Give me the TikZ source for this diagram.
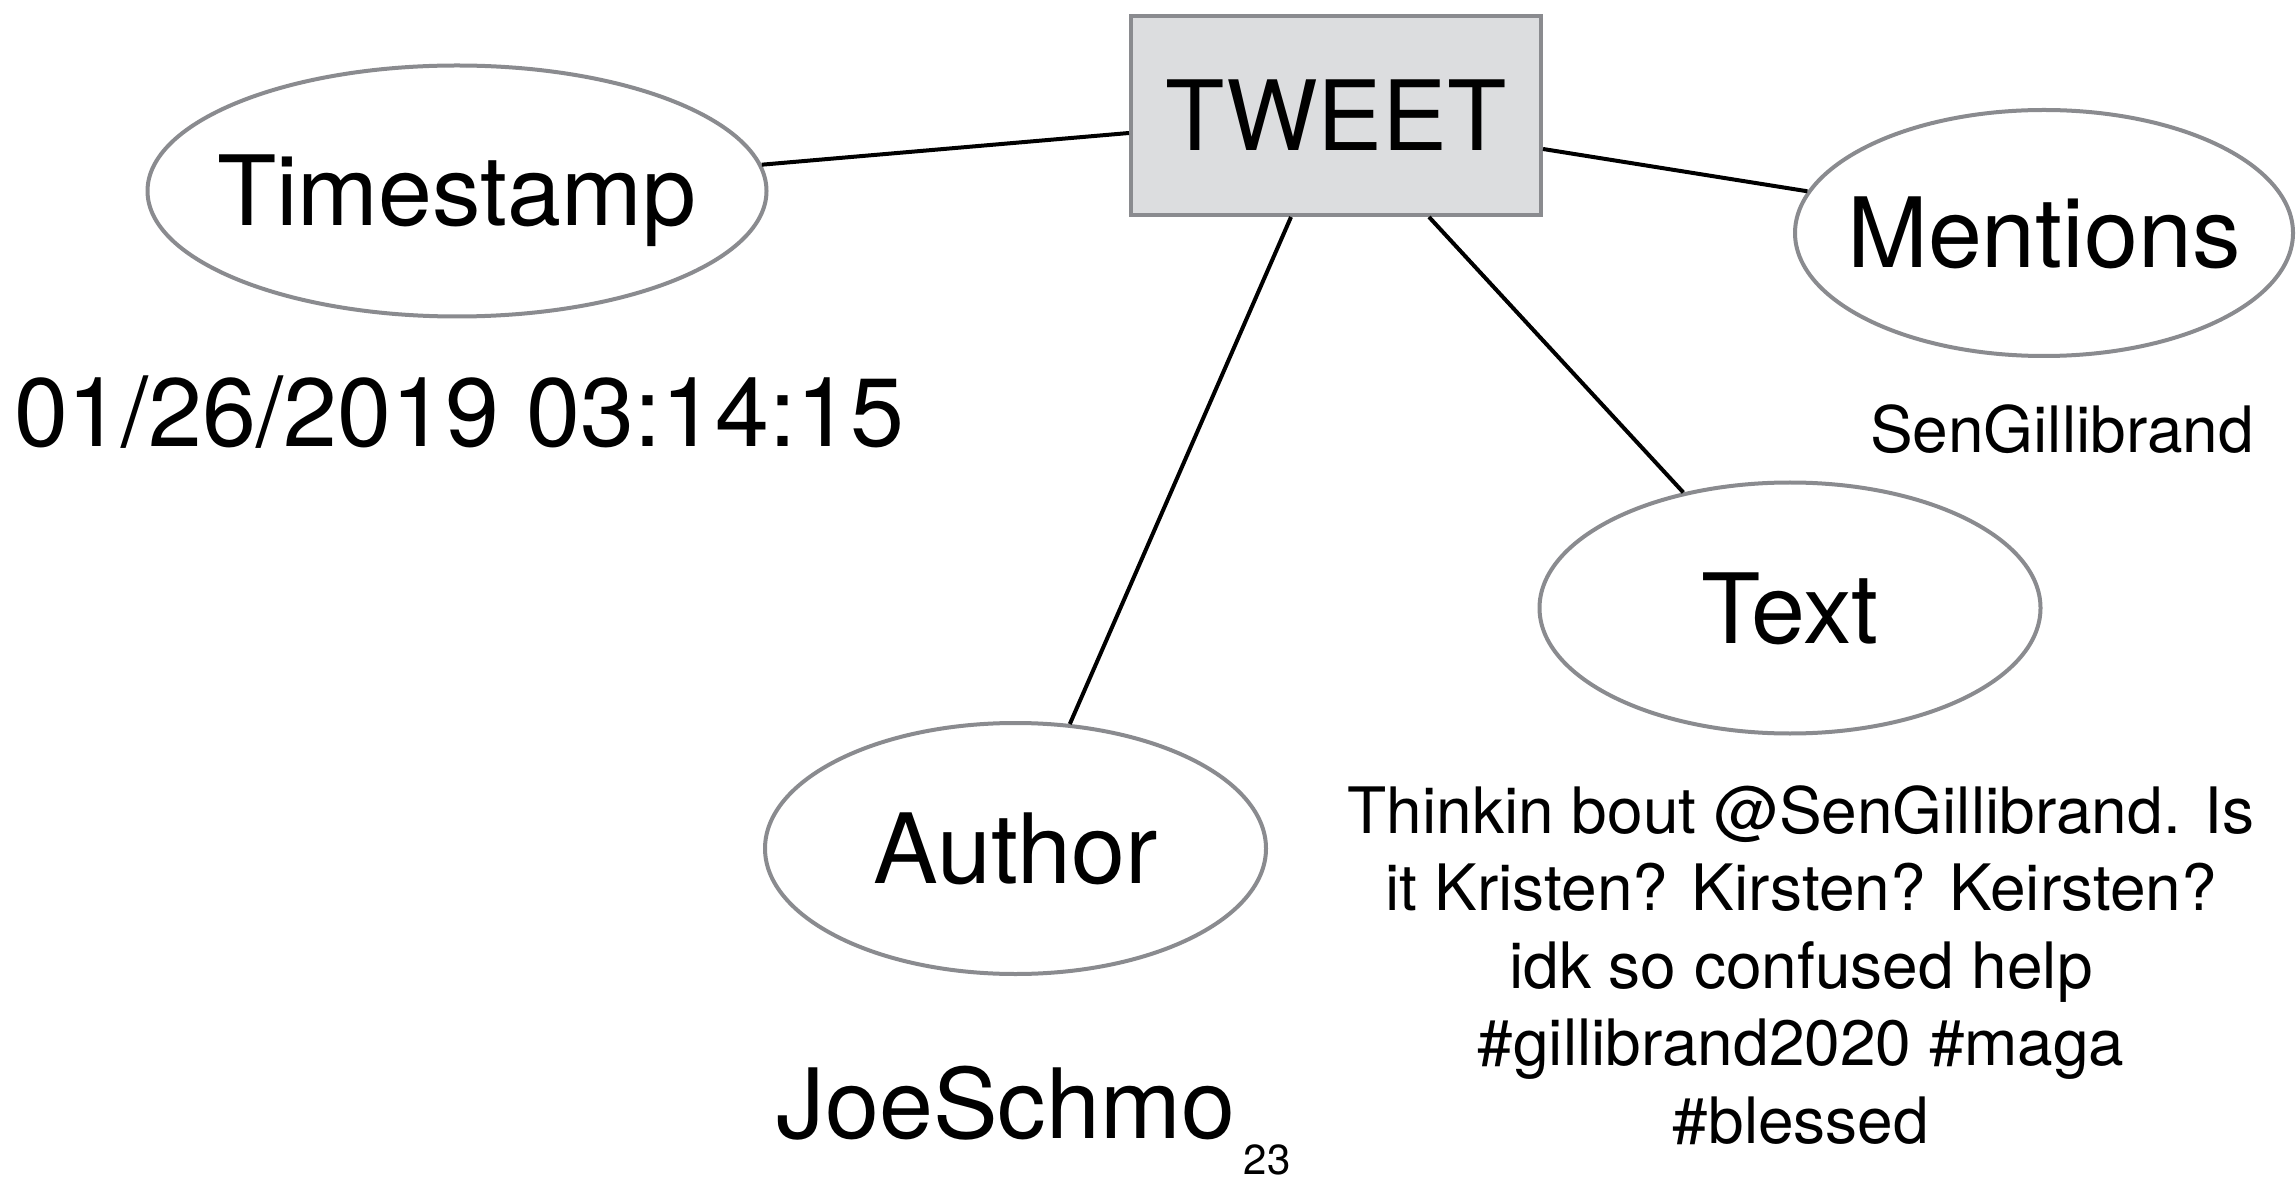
\documentclass[tikz,border=0pt]{standalone}
\usepackage{fontspec}
\setmainfont{TeX Gyre Heros}
\usetikzlibrary{shapes.geometric,calc}
\definecolor{edgegray}{HTML}{8A8B8F}
\definecolor{boxfill}{HTML}{DCDDDF}
\begin{document}
\begin{tikzpicture}[x=0.5pt,y=-0.5pt,
  bigfont/.style={font=\fontsize{48.5}{58}\selectfont},
  midfont/.style={font=\fontsize{32}{38.75}\selectfont},
  smallfont/.style={font=\fontsize{21}{25}\selectfont},
  capbox/.style={bigfont, inner sep=0pt, text height=35pt, text depth=0pt},
  attr/.style={ellipse, draw=edgegray, line width=2pt, fill=white, inner sep=0pt,
               minimum width=#1, minimum height=125.5pt},
  attr/.default=250.5pt,
  tweetbox/.style={rectangle, draw=edgegray, fill=boxfill, line width=2pt,
                   minimum width=205pt, minimum height=99.5pt, capbox},
  link/.style={draw=black, line width=2pt},
  plain/.style={inner sep=0pt, anchor=base}
]
\useasboundingbox (0,0) rectangle (2296,1181);

% central entity
\node[tweetbox] (tweet) at (1336,115.5) {TWEET};

% attributes
\node[attr=309.5pt, label={[capbox]center:Timestamp}] (ts) at (457,191) {};
\node[attr=249pt, minimum height=123pt, label={[capbox]center:Mentions}] (mentions) at (2044,233) {};
\node[attr, label={[capbox]center:Text}] (text) at (1790,608) {};
\node[attr, label={[capbox]center:Author}] (author) at (1015.5,848.5) {};

% example values
\node[plain, bigfont] (tsval) at (459,447) {01/26/2019 03:14:15};
\node[plain, midfont] (mentval) at (2062,453) {SenGillibrand};
\node[plain, bigfont] (authval) at (1006,1138) {JoeSchmo};
\node[plain, smallfont] (pagenum) at (1267,1174) {23};
\node[midfont, align=center, inner sep=0pt, anchor=north] (textval) at (1801,785)
  {Thinkin bout @SenGillibrand. Is\\it Kristen? Kirsten? Keirsten?\\idk so confused help\\\#gillibrand2020 \#maga\\\#blessed};

% connectors
\draw[link] (ts) -- ($(tweet.west)+(0,17.5)$);
\draw[link] ($(tweet.east)+(0,33.5)$) -- (mentions.170);
\draw[link] ($(tweet.south)+(-45,0)$) -- (author);
\draw[link] ($(tweet.south)+(93,0)$) -- (text);
\end{tikzpicture}
\end{document}
